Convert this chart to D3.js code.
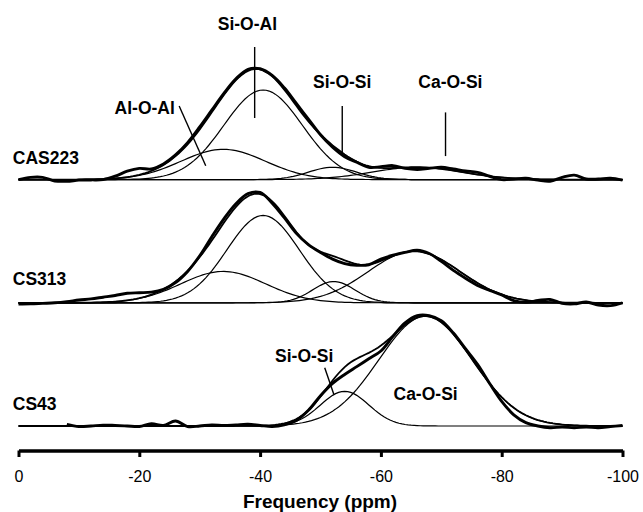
<!DOCTYPE html>
<html>
<head>
<meta charset="utf-8">
<script src="https://cdn.jsdelivr.net/npm/d3@7"></script>
<style>
body { margin: 0; background: #fff; }
svg { display: block; }
text { font-family: "Liberation Sans", Arial, sans-serif; fill: #000; }
.lbl { font-weight: bold; font-size: 17.5px; }
.tick text { font-size: 16px; }
</style>
</head>
<body>
<script>
// chemical shift grid of the measured spectra (ppm)
const ppmGrid = d3.range(0, -101, -2);
const xTicks = [0, -20, -40, -60, -80, -100];

const samples = ["CAS223", "CS313", "CS43"];
const stackOffset = [2.2, 1.1, 0];

// measured spectra, normalised intensity, read every 2 ppm
const expCAS223 = [0.0, 0.02, 0.02, -0.012, -0.015, -0.005, -0.003, 0.0, 0.03, 0.075,
  0.10, 0.095, 0.14, 0.22, 0.33, 0.47, 0.62, 0.77, 0.90, 0.985,
  0.99, 0.93, 0.82, 0.68, 0.54, 0.40, 0.29, 0.205, 0.155, 0.11,
  0.115, 0.125, 0.10, 0.09, 0.10, 0.11, 0.095, 0.078, 0.065, 0.03,
  0.0, 0.005, 0.012, -0.005, -0.015, 0.02, 0.04, 0.005, 0.005, 0.012, -0.005];
const expCS313 = [-0.012, -0.01, -0.005, 0.0, 0.01, 0.025, 0.035, 0.05, 0.065, 0.085,
  0.09, 0.095, 0.12, 0.18, 0.28, 0.42, 0.59, 0.75, 0.885, 0.975,
  0.985, 0.89, 0.76, 0.62, 0.52, 0.45, 0.39, 0.35, 0.335, 0.34,
  0.39, 0.425, 0.45, 0.47, 0.44, 0.37, 0.29, 0.22, 0.155, 0.11,
  0.07, 0.02, 0.005, 0.02, 0.03, -0.005, -0.01, 0.007, -0.02, -0.025, 0.0];
const expCS43 = [null, null, null, null, 0.015, -0.005, 0.0, 0.008, 0.005, 0.0,
  -0.005, 0.02, 0.005, 0.045, -0.005, 0.0, 0.01, 0.005, 0.01, 0.015,
  0.005, -0.005, 0.01, 0.05, 0.14, 0.27, 0.38, 0.46, 0.53, 0.60,
  0.67, 0.80, 0.92, 0.985, 0.985, 0.94, 0.83, 0.69, 0.55, 0.38,
  0.22, 0.10, 0.03, 0.0, -0.015, -0.01, -0.015, -0.01, -0.015, -0.005, 0.005];

// fitted gaussian peaks: centre (ppm), height, sigma (ppm)
const peaksCAS223 = ["Al-O-Al", "Si-O-Al", "Si-O-Si", "Ca-O-Si"];
const centreCAS223 = [-33.9, -40.5, -52, -66];
const heightCAS223 = [0.27, 0.80, 0.11, 0.11];
const sigmaCAS223 = [7, 6.5, 4, 7.5];

const peaksCS313 = ["Al-O-Al", "Si-O-Al", "Si-O-Si", "Ca-O-Si"];
const centreCS313 = [-33.9, -40.5, -52.2, -65.5];
const heightCS313 = [0.28, 0.78, 0.19, 0.46];
const sigmaCS313 = [7, 6, 3.5, 7.6];

const peaksCS43 = ["Si-O-Si", "Ca-O-Si"];
const centreCS43 = [-54, -67.4];
const heightCS43 = [0.31, 0.98];
const sigmaCS43 = [4, 7.7];

const measured = [expCAS223, expCS313, expCS43];
const fits = [
  {c: centreCAS223, h: heightCAS223, s: sigmaCAS223},
  {c: centreCS313, h: heightCS313, s: sigmaCS313},
  {c: centreCS43, h: heightCS43, s: sigmaCS43}
];

const width = 643, height = 512;
const x = d3.scaleLinear().domain([0, -100]).range([18.5, 622.5]);
const y = d3.scaleLinear().domain([0, 1]).range([426, 314]);

const svg = d3.select("body").append("svg")
  .attr("width", width).attr("height", height);

const fine = d3.range(0, -100.01, -0.5);
function gauss(p, c, h, s) { return h * Math.exp(-((p - c) * (p - c)) / (2 * s * s)); }

samples.forEach((name, i) => {
  const off = stackOffset[i];
  const line = d3.line()
    .defined(d => d[1] != null)
    .x(d => x(d[0]))
    .y(d => y(d[1] + off));
  const f = fits[i];

  // single components
  f.c.forEach((c, k) => {
    svg.append("path")
      .datum(fine.map(p => [p, gauss(p, c, f.h[k], f.s[k])]))
      .attr("d", line)
      .attr("fill", "none").attr("stroke", "#000").attr("stroke-width", 1.2);
  });

  // sum of components
  svg.append("path")
    .datum(fine.map(p => [p, d3.sum(f.c, (c, k) => gauss(p, c, f.h[k], f.s[k]))]))
    .attr("d", line)
    .attr("fill", "none").attr("stroke", "#000").attr("stroke-width", 1.8);

  // measured spectrum
  svg.append("path")
    .datum(ppmGrid.map((p, k) => [p, measured[i][k]]))
    .attr("d", line.curve(d3.curveCatmullRom))
    .attr("fill", "none").attr("stroke", "#000").attr("stroke-width", 2.9)
    .attr("stroke-linejoin", "round");
});

// sample names
const sampleLabelV = [2.34, 1.26, 0.143];
samples.forEach((name, i) => {
  svg.append("text").attr("class", "lbl")
    .attr("x", x(0.95)).attr("y", y(sampleLabelV[i]))
    .text(name);
});

// peak annotations: text position and marker line in (ppm, intensity)
const notes = [
  {t: "Si-O-Al", tx: -37.9, ty: 3.54, l: [[-39.1, 3.384], [-39.1, 2.75]]},
  {t: "Al-O-Al", tx: -20.9, ty: 2.79, l: [[-26.6, 2.857], [-31.0, 2.324]]},
  {t: "Si-O-Si", tx: -53.6, ty: 3.015, l: [[-53.6, 2.857], [-53.6, 2.41]]},
  {t: "Ca-O-Si", tx: -71.5, ty: 3.015, l: [[-70.7, 2.80], [-70.7, 2.41]]},
  {t: "Si-O-Si", tx: -47.3, ty: 0.574, l: [[-50.7, 0.52], [-52.2, 0.283]]},
  {t: "Ca-O-Si", tx: -67.4, ty: 0.232, l: null}
];
notes.forEach(n => {
  svg.append("text").attr("class", "lbl")
    .attr("x", x(n.tx)).attr("y", y(n.ty))
    .attr("text-anchor", "middle")
    .text(n.t);
  if (n.l) {
    svg.append("line")
      .attr("x1", x(n.l[0][0])).attr("y1", y(n.l[0][1]))
      .attr("x2", x(n.l[1][0])).attr("y2", y(n.l[1][1]))
      .attr("stroke", "#000").attr("stroke-width", 1.4);
  }
});

// x axis
const axis = svg.append("g")
  .attr("transform", "translate(0,450.5)")
  .call(d3.axisBottom(x).tickValues(xTicks).tickFormat(d => String(d))
    .tickSize(6.5).tickSizeOuter(0).tickPadding(14));
axis.select(".domain").attr("stroke-width", 3.5);
axis.selectAll(".tick line").attr("stroke-width", 3);
axis.selectAll(".tick text").attr("font-size", 16);

svg.append("text")
  .attr("x", 320).attr("y", 508)
  .attr("text-anchor", "middle")
  .attr("font-weight", "bold").attr("font-size", 19)
  .text("Frequency (ppm)");
</script>
</body>
</html>
